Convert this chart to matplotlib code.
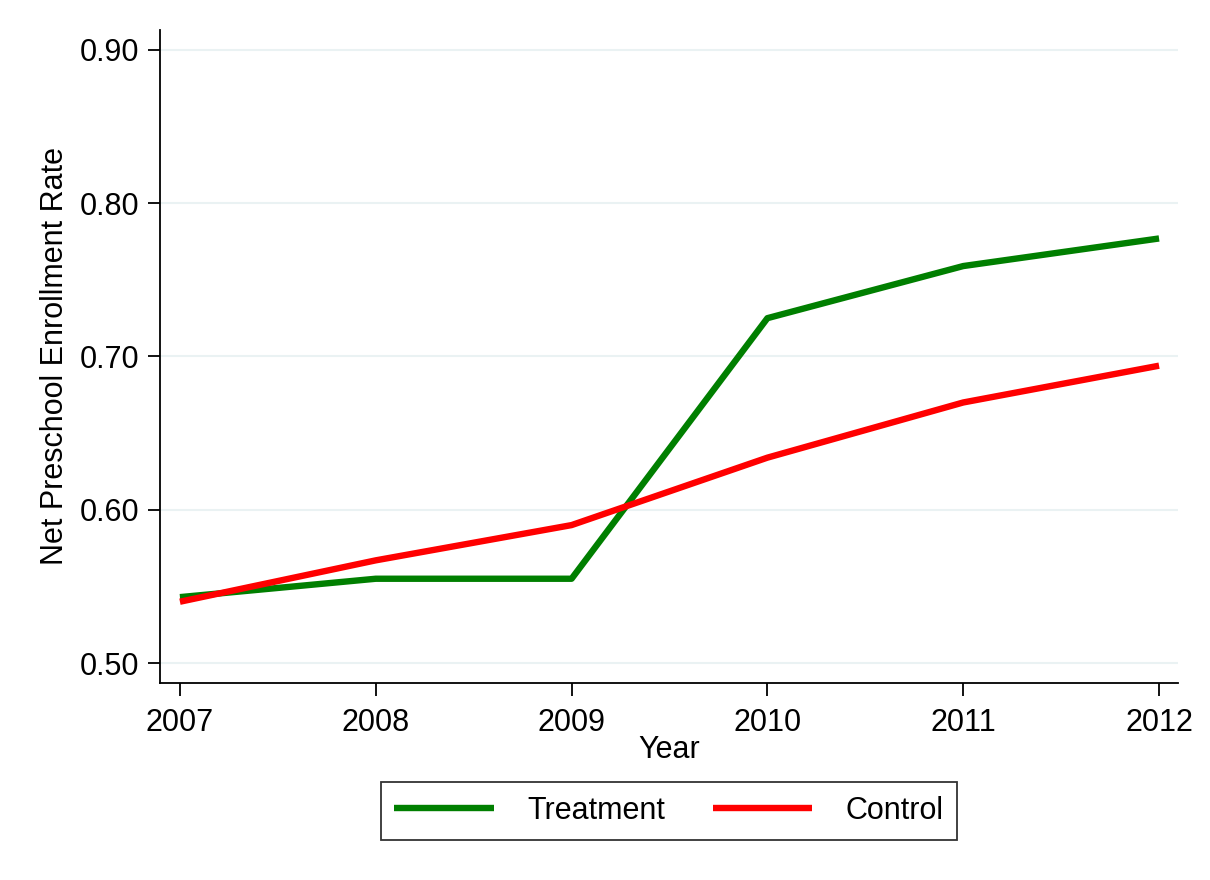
import matplotlib
matplotlib.use('Agg')
import matplotlib.pyplot as plt

years = [2007, 2008, 2009, 2010, 2011, 2012]
treatment = [0.543, 0.555, 0.555, 0.725, 0.759, 0.777]
control = [0.540, 0.567, 0.590, 0.634, 0.670, 0.694]
yticks = [0.50, 0.60, 0.70, 0.80, 0.90]

plt.rcParams['font.family'] = ['Liberation Sans', 'DejaVu Sans']

fig = plt.figure(figsize=(12.1, 8.8), dpi=100)
ax = fig.add_axes([0.1322, 0.2239, 0.8414, 0.742])

ax.plot(years, treatment, color='#007f00', lw=4.6, label='Treatment', solid_capstyle='butt')
ax.plot(years, control, color='#ff0000', lw=4.6, label='Control', solid_capstyle='butt')

ax.set_xlim(2006.898, 2012.097)
ax.set_ylim(0.487, 0.913)
ax.set_xticks(years)
ax.set_yticks(yticks)
ax.set_yticklabels(['%.2f' % v for v in yticks])
ax.grid(axis='y', color='#eaf2f3', lw=1.5)
ax.set_axisbelow(True)

for s in ['top', 'right']:
    ax.spines[s].set_visible(False)
for s in ['left', 'bottom']:
    ax.spines[s].set_linewidth(1.3)
ax.tick_params(axis='both', labelsize=22, length=9, width=1.3)
ax.tick_params(axis='x', pad=9)
ax.tick_params(axis='y', pad=6)

ax.set_ylabel('Net Preschool Enrollment Rate', fontsize=22, labelpad=7)
ax.set_xlabel('Year', fontsize=22, labelpad=-2)

leg = ax.legend(loc='upper center', bbox_to_anchor=(0.5, -0.152), ncol=2, fontsize=22,
                frameon=True, fancybox=False, edgecolor='black', handlelength=3.25,
                handletextpad=1.1, columnspacing=1.55, borderpad=0.45,
                borderaxespad=0)
leg.get_frame().set_linewidth(1.3)

fig.savefig('out.png', dpi=100)
